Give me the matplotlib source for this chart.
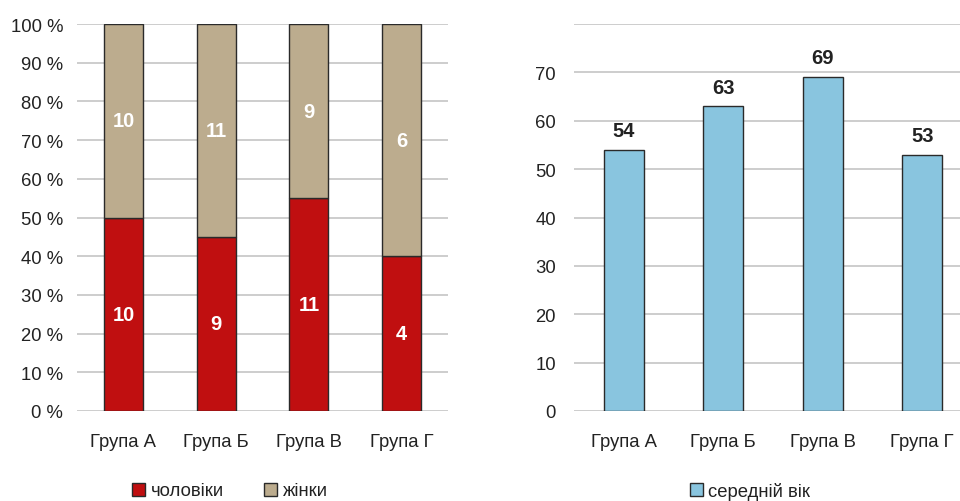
import numpy as np
import matplotlib.pyplot as plt

plt.rcParams['font.family'] = ['Liberation Sans', 'DejaVu Sans']

groups = ['Група А', 'Група Б', 'Група В', 'Група Г']
men = [10, 9, 11, 4]
women = [10, 11, 9, 6]
avg_age = [54, 63, 69, 53]

c_men = '#C00F10'
c_women = '#BCAC8E'
c_age = '#89C5DF'
c_grid = '#C9C9C9'
c_edge = '#2A2A2A'
c_text = '#222222'

W, H = 960, 502
fig = plt.figure(figsize=(W / 100, H / 100), dpi=100)

def style(ax):
    for s in ax.spines.values():
        s.set_visible(False)
    ax.tick_params(length=0, labelsize=13.3, colors=c_text)
    ax.yaxis.grid(True, color=c_grid, linewidth=1.3)
    ax.set_axisbelow(True)

# ---- left: 100% stacked
ax1 = fig.add_axes([77 / W, 90 / H, 371 / W, 387 / H])
x = np.arange(len(groups))
total = np.array(men) + np.array(women)
p_men = np.array(men) / total * 100
p_women = np.array(women) / total * 100
ax1.bar(x, p_men, width=0.42, color=c_men, edgecolor=c_edge, linewidth=1, label='чоловіки')
ax1.bar(x, p_women, width=0.42, bottom=p_men, color=c_women, edgecolor=c_edge, linewidth=1, label='жінки')
for i in range(len(groups)):
    ax1.text(x[i], p_men[i] / 2, str(men[i]), ha='center', va='center',
             color='white', fontsize=14.5, fontweight='bold')
    ax1.text(x[i], p_men[i] + p_women[i] / 2, str(women[i]), ha='center', va='center',
             color='white', fontsize=14.5, fontweight='bold')
ax1.set_xlim(-0.5, 3.5)
ax1.set_ylim(0, 100)
ax1.set_yticks(range(0, 101, 10))
ax1.set_yticklabels([f'{v} %' for v in range(0, 101, 10)])
ax1.set_xticks(x)
ax1.set_xticklabels(groups)
style(ax1)
ax1.tick_params(axis='y', pad=10)
ax1.tick_params(axis='x', pad=16)
ax1.legend(loc='center', bbox_to_anchor=(230 / W, 10 / H), bbox_transform=fig.transFigure,
           ncol=2, frameon=False, fontsize=13.3, handlelength=0.7, handleheight=0.7,
           handletextpad=0.3, columnspacing=2.2, labelcolor=c_text)

# ---- right: average age
ax2 = fig.add_axes([574 / W, 90 / H, 398 / W, 387 / H])
ax2.bar(x, avg_age, width=0.4, color=c_age, edgecolor=c_edge, linewidth=1, label='середній вік')
for i, v in enumerate(avg_age):
    ax2.annotate(str(v), (x[i], v), xytext=(0, 7), textcoords='offset points',
                 ha='center', va='bottom', fontsize=14.5, fontweight='bold', color=c_text)
ax2.set_xlim(-0.5, 3.5)
ax2.set_ylim(0, 80)
ax2.set_yticks(range(0, 81, 10))
ax2.set_yticklabels([str(v) for v in range(0, 71, 10)] + [''])
ax2.set_xticks(x)
ax2.set_xticklabels(groups)
style(ax2)
ax2.tick_params(axis='y', pad=13)
ax2.tick_params(axis='x', pad=16)
ax2.legend(loc='center', bbox_to_anchor=(750 / W, 10 / H), bbox_transform=fig.transFigure,
           frameon=False, fontsize=13.3, handlelength=0.7, handleheight=0.7,
           handletextpad=0.3, labelcolor=c_text)

fig.savefig('out.png', dpi=100)
